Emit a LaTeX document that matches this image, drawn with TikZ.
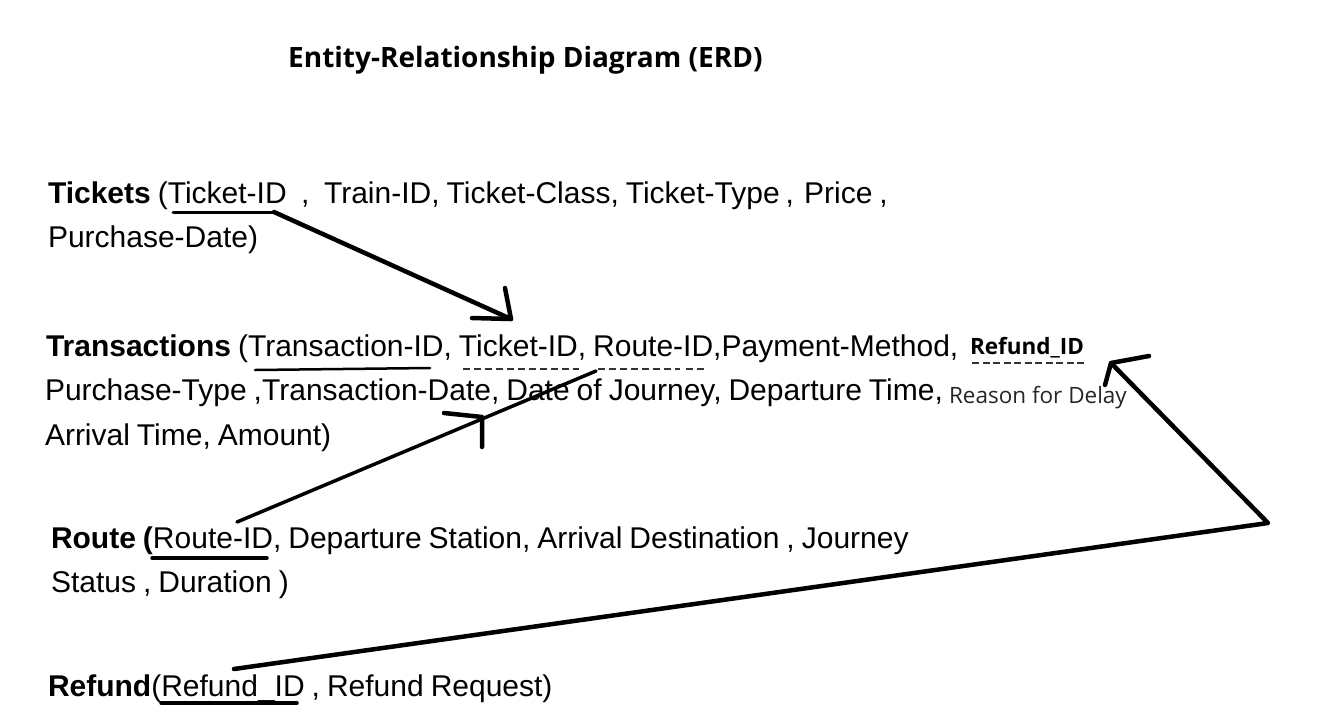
\documentclass[tikz,border=0pt]{standalone}
\usepackage{fontspec}
\setmainfont{Liberation Sans}
\newfontfamily\titlefont{Open Sans}
\newfontfamily\smallfont{Open Sans}
\newcommand\bodyfnt{\fontsize{30}{36}\selectfont\spaceskip 7pt\relax}
\begin{document}
\begin{tikzpicture}[x=1pt,y=-1pt,
  txt/.style={anchor=base west,inner sep=0pt,outer sep=0pt,font=\bodyfnt},
  smalltxt/.style={anchor=base west,inner sep=0pt,outer sep=0pt,font=\smallfont\fontsize{22.5}{27}\selectfont},
  pen/.style={line width=4.5pt,line cap=round,line join=round},
  uline/.style={line width=3pt,line cap=round},
  dline/.style={line width=2pt,dash pattern=on 7pt off 4pt,black!80},
]
\useasboundingbox[fill=white] (0,0) rectangle (1322,726);
% title
\node[anchor=base west,inner sep=0pt,font=\titlefont\bfseries\fontsize{28}{34}\selectfont] (title) at (288,67) {Entity-Relationship Diagram (ERD)};
% Tickets
\node[txt] (t1) at (48,203) {\textbf{Tickets} (Ticket-ID\hspace{14.4pt},\hspace{14.6pt}Train-ID, Ticket-Class, Ticket-Type\hspace{6pt},\hspace{10pt}Price\hspace{7pt},};
\node[txt] (t2) at (48,247) {Purchase-Date)};
% Transactions
\node[txt] (r1) at (46,356) {\textbf{Transactions} (Transaction-ID, Ticket-ID, Route-ID,Payment-Method,};
\node[smalltxt,font=\smallfont\bfseries\fontsize{22.5}{27}\selectfont] (rfid) at (970,354) {Refund\_ID};
\node[txt] (r2) at (45,400) {Purchase-Type ,Transaction-Date, Date of Journey, Departure Time,};
\node[smalltxt,text=black!85] (reason) at (949,403) {Reason for Delay};
\node[txt] (r3) at (45,445) {Arrival Time, Amount)};
% Route
\node[txt] (o1) at (51,548) {\textbf{Route (}Route-ID, Departure Station, Arrival Destination , Journey};
\node[txt] (o2) at (51,592) {Status , Duration )};
% Refund
\node[txt] (f1) at (48,696) {\textbf{Refund}(Refund\_ID , Refund Request)};
% coordinates
\coordinate (tkA) at (173,212); \coordinate (tkB) at (274,212);
\coordinate (tip1) at (511,319); \coordinate (h1a) at (505,288); \coordinate (h1b) at (472,318);
\coordinate (trA) at (255,370); \coordinate (trB) at (430,368);
\coordinate (dtA) at (463,369); \coordinate (dtB) at (579,369);
\coordinate (drA) at (598,369); \coordinate (drB) at (680,369);
\coordinate (drC) at (686,369); \coordinate (drD) at (705,369);
\coordinate (dfA) at (972,363); \coordinate (dfB) at (1086,363);
\coordinate (roS) at (237,522); \coordinate (roE) at (596,371);
\coordinate (h2m) at (482,417); \coordinate (h2a) at (444,413); \coordinate (h2b) at (482,447);
\coordinate (ruA) at (152,558); \coordinate (ruB) at (267,558);
\coordinate (fS) at (234,669); \coordinate (fC) at (1268,523); \coordinate (tip3) at (1111,363);
\coordinate (h3a) at (1149,356); \coordinate (h3b) at (1105,385);
\coordinate (fuA) at (161,703); \coordinate (fuB) at (297,703);
% underlines
\draw[uline] (tkA) -- (tkB);
\draw[uline,line width=2.5pt] (trA) -- (trB);
\draw[uline,line width=3.5pt] (ruA) -- (ruB);
\draw[uline,line width=3.5pt] (fuA) -- (fuB);
\draw[dline] (dtA) -- (dtB);
\draw[dline] (drA) -- (drB);
\draw[dline] (drC) -- (drD);
\draw[dline,line width=1.5pt,dash pattern=on 7pt off 3.5pt] (dfA) -- (dfB);
% arrows
\draw[pen] (tkB) -- (tip1);
\draw[pen] (h1a) -- (tip1) -- (h1b);
\draw[pen,line width=3.5pt] (roS) -- (roE);
\draw[pen] (h2a) -- (h2m) -- (h2b);
\draw[pen] (fS) -- (fC) -- (tip3);
\draw[pen] (h3a) -- (tip3) -- (h3b);
\end{tikzpicture}
\end{document}
